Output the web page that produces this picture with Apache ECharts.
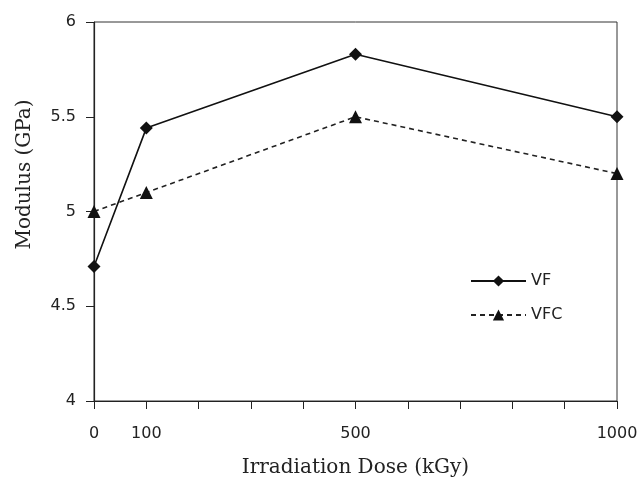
<!DOCTYPE html>
<html><head><meta charset="utf-8">
<script src="https://cdn.jsdelivr.net/npm/echarts@6/dist/echarts.min.js"></script>
<style>html,body{margin:0;padding:0;background:#fff}#c{width:638px;height:481px}</style>
</head><body><div id="c"></div>
<script>
const doses = [0, 100, 500, 1000];
const vfValues = [4.71, 5.44, 5.83, 5.50];
const vfcValues = [5.00, 5.10, 5.50, 5.20];
const xTickLabels = [0, 100, 500, 1000];
const yTickLabels = [4, 4.5, 5, 5.5, 6];

const chart = echarts.init(document.getElementById('c'), null, {renderer: 'canvas'});
const axisFont = {color: '#222', fontFamily: 'DejaVu Sans', fontSize: 16};
chart.setOption({
  animation: false,
  backgroundColor: '#fff',
  grid: {left: 94, right: 21, top: 22, bottom: 80, outerBoundsMode: 'none', containLabel: false,
         show: true, borderColor: '#333', borderWidth: 1, backgroundColor: 'transparent'},
  legend: {
    orient: 'vertical', left: 470, top: 273, padding: 0, itemWidth: 55, itemHeight: 14, itemGap: 18,
    textStyle: {fontFamily: 'DejaVu Sans', fontSize: 16, color: '#222'},
    data: ['VF', 'VFC']
  },
  xAxis: {
    type: 'value', min: 0, max: 1000, interval: 100,
    name: 'Irradiation Dose (kGy)', nameLocation: 'middle', nameGap: 57,
    nameTextStyle: {fontFamily: 'DejaVu Serif', fontSize: 20, color: '#222'},
    axisLine: {lineStyle: {color: '#222', width: 1.2}},
    axisTick: {show: true, inside: false, length: 8, lineStyle: {color: '#222'}},
    axisLabel: Object.assign({margin: 25, formatter: v => xTickLabels.includes(v) ? String(v) : ''}, axisFont),
    splitLine: {show: false}
  },
  yAxis: {
    type: 'value', min: 4, max: 6, interval: 0.5,
    name: 'Modulus (GPa)', nameLocation: 'middle', nameGap: 59,
    nameTextStyle: {fontFamily: 'DejaVu Serif', fontSize: 20, color: '#222', padding: [0, 0, 0, 74]},
    axisLine: {show: true, lineStyle: {color: '#222', width: 1.2}},
    axisTick: {show: true, inside: false, length: 8, lineStyle: {color: '#222'}},
    axisLabel: Object.assign({margin: 18, formatter: v => yTickLabels.includes(v) ? String(v) : ''}, axisFont),
    splitLine: {show: false}
  },
  series: [
    {
      name: 'VF', type: 'line', data: doses.map((d, i) => [d, vfValues[i]]),
      symbol: 'diamond', symbolSize: 13, itemStyle: {color: '#111'},
      lineStyle: {color: '#111', width: 1.6, type: 'solid'}
    },
    {
      name: 'VFC', type: 'line', data: doses.map((d, i) => [d, vfcValues[i]]),
      symbol: 'triangle', symbolSize: 13, itemStyle: {color: '#111'},
      lineStyle: {color: '#222', width: 1.6, type: [5, 4]}
    }
  ]
});
</script></body></html>
